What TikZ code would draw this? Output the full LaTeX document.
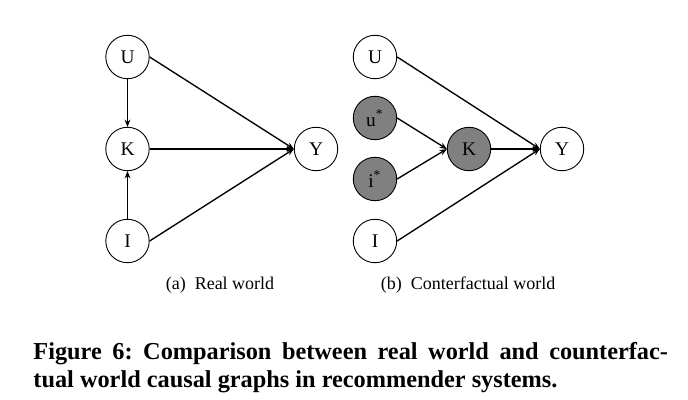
\documentclass[tikz,border=0pt]{standalone}
\usepackage{fontspec}
\setmainfont{Liberation Serif}
\usetikzlibrary{arrows.meta}
\frenchspacing
\tikzset{
  var/.style={draw, circle, minimum size=19.3pt, inner sep=0pt, font=\fontsize{8.6}{10}\selectfont},
  fixed/.style={var, fill=gray},
  edge/.style={semithick, -{Stealth[length=3.2pt,width=2.6pt]}},
  subcap/.style={anchor=base, font=\fontsize{8}{10}\selectfont}
}
\begin{document}
\begin{tikzpicture}[x=0.4444pt, y=-0.4444pt]
  \useasboundingbox (0,0) rectangle (688,400);
  % (a) real world
  \node[var] (U) at (127.5,57) {U};
  \node[var] (K) at (127.5,149) {K};
  \node[var] (I) at (127.5,241) {I};
  \node[var] (Y) at (316,149) {Y};
  \draw[edge] (U) -- (K);
  \draw[edge] (I) -- (K);
  \draw[edge] (U.east) -- (Y.west);
  \draw[edge] (K.east) -- (Y.west);
  \draw[edge] (I.east) -- (Y.west);
  \node[subcap] (capa) at (220,290) {(a)\enspace Real world};
  % (b) counterfactual world
  \node[var] (U2) at (375,57) {U};
  \node[fixed] (u2) at (375,118) {u\textsuperscript{*}};
  \node[fixed] (i2) at (375,179) {i\textsuperscript{*}};
  \node[var] (I2) at (375,241) {I};
  \node[fixed] (K2) at (469,149) {K};
  \node[var] (Y2) at (562,149) {Y};
  \draw[edge] (u2.east) -- (K2.west);
  \draw[edge] (i2.east) -- (K2.west);
  \draw[edge] (U2.east) -- (Y2.west);
  \draw[edge] (K2.east) -- (Y2.west);
  \draw[edge] (I2.east) -- (Y2.west);
  \node[subcap] (capb) at (468,290) {(b)\enspace Conterfactual world};
  % figure caption
  \node[anchor=north west, inner sep=0pt, text width=282pt, align=justify,
        font=\fontsize{10.8}{12.6}\selectfont\bfseries] (fig) at (33,342)
    {Figure 6: Comparison between real world and counterfac-\linebreak tual world causal graphs in recommender systems.};
\end{tikzpicture}
\end{document}
